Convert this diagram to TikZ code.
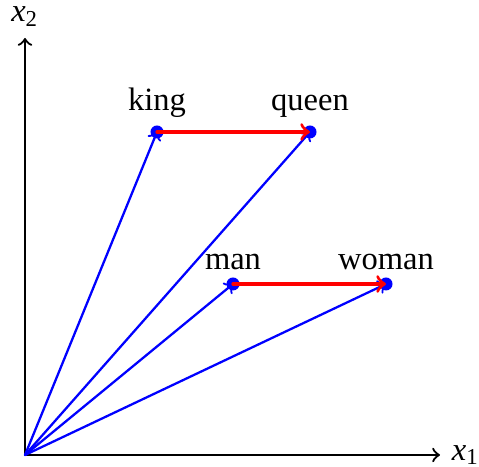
\documentclass[tikz,border=0pt]{standalone}
\usepackage{fontspec}
\setmainfont{Liberation Serif}
\begin{document}
\begin{tikzpicture}[x=0.3075pt,y=0.3075pt,line join=round,line cap=round,>=to,
  dot/.style={circle,fill=blue,inner sep=0pt,minimum size=4pt,
    label={[inner sep=2pt]above:#1}},
  vec/.style={->,blue,line width=0.7pt},
  diffvec/.style={->,red,line width=1pt}]
\useasboundingbox (-25,-12) rectangle (454,455);
\coordinate (O) at (0,0);
\coordinate (xend) at (415,0);
\coordinate (yend) at (0,417);
\draw[->,line width=0.7pt] (O)--(xend) node[right] {\textit{x}\textsubscript{1}};
\draw[->,line width=0.7pt] (O)--(yend) node[above] {\textit{x}\textsubscript{2}};
\node[dot=king] (king) at (132,323) {};
\node[dot=queen] (queen) at (285,323) {};
\node[dot=man] (man) at (208,171) {};
\node[dot=woman] (woman) at (361,171) {};
\foreach \w in {king,queen,man,woman}
\draw[vec] (O)--(\w.center);
\draw[diffvec] (king.center)--(queen.center);
\draw[diffvec] (man.center)--(woman.center);
\end{tikzpicture}
\end{document}
